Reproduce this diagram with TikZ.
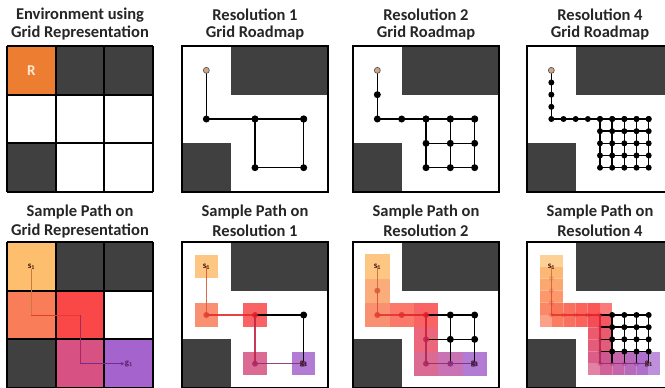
\documentclass[tikz,border=0pt]{standalone}
\usepackage{fontspec}
\setmainfont{Carlito}
\usetikzlibrary{arrows.meta}
\definecolor{dk}{RGB}{64,64,64}
\definecolor{rorange}{RGB}{237,125,49}
\definecolor{rtext}{RGB}{253,232,215}
\definecolor{stan}{RGB}{205,165,135}
\definecolor{cm0}{RGB}{253,190,110}
\definecolor{cm1}{RGB}{250,125,90}
\definecolor{cm2}{RGB}{250,72,72}
\definecolor{cm3}{RGB}{215,82,130}
\definecolor{cm4}{RGB}{165,100,205}
\definecolor{pm0}{RGB}{205,120,60}
\definecolor{pm1}{RGB}{230,60,45}
\definecolor{pm2}{RGB}{225,30,40}
\definecolor{pm3}{RGB}{165,40,100}
\definecolor{pm4}{RGB}{115,45,145}
\definecolor{lblc}{RGB}{55,25,15}

\newcommand{\mixcol}[3]{%
  \pgfmathtruncatemacro{\mcseg}{min(floor(#3),3)}%
  \pgfmathtruncatemacro{\mcnext}{\mcseg+1}%
  \pgfmathtruncatemacro{\mcpct}{round(100*(1-((#3)-\mcseg)))}%
  \colorlet{#1}{#2\mcseg!\mcpct!#2\mcnext}}

\newcommand{\myenvbg}{%
  \fill[white] (0,0) rectangle (3,3);
  \fill[dk] (1,0) rectangle (3,1);
  \fill[dk] (0,2) rectangle (1,3);}
\newcommand{\myframe}{\draw[line width=1.8pt] (0,0) rectangle (3,3);}

% top roadmap: id, column list, row list, grid list, step
\newcommand{\rmap}[5]{%
  \foreach \j in {#2} {\coordinate (#1-2-\j) at (0.5,\j/4);}
  \foreach \i in {#3} {\coordinate (#1-\i-6) at (\i/4,1.5);}
  \foreach \i in {#4} {\foreach \j in {#4} {\coordinate (#1-\i-\j) at (\i/4,\j/4);}}
  \foreach \j in {#2} {\ifnum\j<6 \pgfmathtruncatemacro\rmj{\j+#5}\draw[redge] (#1-2-\j) -- (#1-2-\rmj);\fi}
  \foreach \i in {#3} {\ifnum\i<10 \pgfmathtruncatemacro\rmi{\i+#5}\draw[redge] (#1-\i-6) -- (#1-\rmi-6);\fi}
  \foreach \i in {#4} {\foreach \j in {#4} {%
     \ifnum\i<10 \pgfmathtruncatemacro\rmi{\i+#5}\draw[redge] (#1-\i-\j) -- (#1-\rmi-\j);\fi
     \ifnum\j<10 \pgfmathtruncatemacro\rmj{\j+#5}\draw[redge] (#1-\i-\j) -- (#1-\i-\rmj);\fi}}
  \foreach \j in {#2} {\ifnum\j>2 \node[rdot] (d#1-2-\j) at (#1-2-\j) {};\fi}
  \foreach \i in {#3} {\ifnum\i>2 \node[rdot] (d#1-\i-6) at (#1-\i-6) {};\fi}
  \foreach \i in {#4} {\foreach \j in {#4} {\node[rdot] (d#1-\i-\j) at (#1-\i-\j) {};}}
  \node[sdot] (s#1) at (#1-2-2) {};
}

% bottom path: id, step, last index, remainder x list, remainder y list, square opacity
\newcommand{\sqh}{0.24}
\newcommand{\bpath}[6]{%
  \foreach \m in {0,...,#3} {%
    \pgfmathtruncatemacro\bt{\m*#2}%
    \pgfmathtruncatemacro\bx{\bt<=4 ? 2 : (\bt<=8 ? \bt-2 : (\bt<=12 ? 6 : \bt-6))}%
    \pgfmathtruncatemacro\by{\bt<=4 ? 2+\bt : (\bt<=8 ? 6 : (\bt<=12 ? \bt-2 : 10))}%
    \coordinate (#1-\bx-\by) at (\bx/4,\by/4);
    \coordinate (#1p\m) at (\bx/4,\by/4);
    \mixcol{sqc}{cm}{\bt/4}%
    \fill[sqc, fill opacity=#6] (\bx/4-\sqh,\by/4-\sqh) rectangle (\bx/4+\sqh,\by/4+\sqh);
  }
  \foreach \i in {#4} {\foreach \j in {#5} {\coordinate (#1-\i-\j) at (\i/4,\j/4);}}
  \foreach \i in {#4} {\foreach \j in {#5} {%
    \pgfmathtruncatemacro\bli{\i-#2}\pgfmathtruncatemacro\blj{\j+#2}%
    \draw[redge] (#1-\bli-\j) -- (#1-\i-\j);
    \draw[redge] (#1-\i-\j) -- (#1-\i-\blj);}}
  \foreach \i in {#4} {\foreach \j in {#5} {\node[rdot] (d#1-\i-\j) at (#1-\i-\j) {};}}
  \foreach \m in {1,...,#3} {%
    \pgfmathtruncatemacro\bprev{\m-1}%
    \mixcol{pc}{pm}{(\m-0.5)*#2/4}%
    \draw[pc, line width=1.6pt, draw opacity=0.9] (#1p\bprev) -- (#1p\m);}
  \foreach \m in {1,...,#3} {%
    \mixcol{pc}{pm}{\m*#2/4}%
    \node[pdot, fill=pc] (#1d\m) at (#1p\m) {};}
  \node[lbl] (#1s) at (#1p0) {s\textsubscript{1}};
  \node[lbl] (#1g) at (#1p#3) {g\textsubscript{1}};
}

\begin{document}
\begin{tikzpicture}[x=1pt,y=-1pt,
  ttl/.style={font=\bfseries\fontsize{16.5}{18}\selectfont, text=black!85, inner sep=0},
  rdot/.style={circle, fill=black, inner sep=0, minimum size=7pt},
  pdot/.style={circle, inner sep=0, minimum size=6pt, fill opacity=0.85},
  sdot/.style={circle, fill=stan, draw=black!70, line width=0.6pt, inner sep=0, minimum size=6pt},
  redge/.style={line width=1.6pt, draw=black},
  lbl/.style={font=\bfseries\fontsize{9}{10}\selectfont, text=lblc, inner sep=0}]
\clip (0,0) rectangle (665,388);
\fill[white] (0,0) rectangle (665,388);

% titles
\node[ttl] (t1a) at (80,15) {Environment using};
\node[ttl] (t1b) at (80,33) {Grid Representation};
\node[ttl] (t2a) at (255,15) {Resolution 1};
\node[ttl] (t2b) at (255,33) {Grid Roadmap};
\node[ttl] (t3a) at (426,15) {Resolution 2};
\node[ttl] (t3b) at (426,33) {Grid Roadmap};
\node[ttl] (t4a) at (600,15) {Resolution 4};
\node[ttl] (t4b) at (600,33) {Grid Roadmap};
\node[ttl] (t5a) at (80,212) {Sample Path on};
\node[ttl] (t5b) at (80,231) {Grid Representation};
\node[ttl] (t6a) at (255,212) {Sample Path on};
\node[ttl] (t6b) at (255,231) {Resolution 1};
\node[ttl] (t7a) at (426,212) {Sample Path on};
\node[ttl] (t7b) at (426,231) {Resolution 2};
\node[ttl] (t8a) at (600,212) {Sample Path on};
\node[ttl] (t8b) at (600,231) {Resolution 4};

% panel 1
\begin{scope}[shift={(7pt,-46pt)}, x=48.67pt, y=-48.67pt]
  \fill[white] (0,0) rectangle (3,3);
  \fill[rorange] (0,0) rectangle (1,1);
  \fill[dk] (1,0) rectangle (3,1);
  \fill[dk] (0,2) rectangle (1,3);
  \foreach \k in {0,...,3} {\draw[line width=1.8pt] (\k,0) -- (\k,3); \draw[line width=1.8pt] (0,\k) -- (3,\k);}
  \node[font=\bfseries\fontsize{15}{17}\selectfont, text=rtext] (R) at (0.5,0.5) {R};
\end{scope}

% panel 2
\begin{scope}[shift={(182pt,-46pt)}, x=48.67pt, y=-48.67pt]
  \myenvbg
  \rmap{A}{2,6}{2,6,10}{6,10}{4}
  \myframe
\end{scope}

% panel 3
\begin{scope}[shift={(353pt,-46pt)}, x=48.67pt, y=-48.67pt]
  \myenvbg
  \rmap{B}{2,4,6}{2,4,6,8,10}{6,8,10}{2}
  \myframe
\end{scope}

% panel 4
\begin{scope}[shift={(527pt,-46pt)}, x=48.67pt, y=-48.67pt,
  rdot/.style={circle, fill=black, inner sep=0, minimum size=6pt},
  redge/.style={line width=1.4pt, draw=black}]
  \myenvbg
  \rmap{C}{2,...,6}{2,...,10}{6,...,10}{1}
  \myframe
\end{scope}

% panel 5
\begin{scope}[shift={(7pt,-242pt)}, x=48.67pt, y=-48.67pt]
  \fill[white] (0,0) rectangle (3,3);
  \fill[cm0] (0,0) rectangle (1,1);
  \fill[cm1] (0,1) rectangle (1,2);
  \fill[cm2] (1,1) rectangle (2,2);
  \fill[cm3] (1,2) rectangle (2,3);
  \fill[cm4] (2,2) rectangle (3,3);
  \fill[dk] (1,0) rectangle (3,1);
  \fill[dk] (0,2) rectangle (1,3);
  \foreach \k in {0,...,3} {\draw[line width=1.8pt] (\k,0) -- (\k,3); \draw[line width=1.8pt] (0,\k) -- (3,\k);}
  \node[lbl] (s5) at (0.5,0.5) {s\textsubscript{1}};
  \node[lbl, text=pm4!70!black] (g5) at (2.5,2.5) {g\textsubscript{1}};
  \coordinate (c5a) at (0.5,1.5);
  \coordinate (c5b) at (1.5,1.5);
  \coordinate (c5c) at (1.5,2.5);
  \draw[pm0, line width=1pt] (s5) -- (c5a);
  \draw[pm1, line width=1pt] (c5a) -- (c5b);
  \draw[pm3, line width=1pt] (c5b) -- (c5c);
  \draw[pm4, line width=1pt, -{Stealth[length=4pt,width=4pt]}] (c5c) -- (g5);
\end{scope}

% panel 6
\begin{scope}[shift={(182pt,-242pt)}, x=48.67pt, y=-48.67pt]
  \myenvbg
  \bpath{D}{4}{4}{10}{6}{0.85}
  \myframe
\end{scope}

% panel 7
\begin{scope}[shift={(353pt,-242pt)}, x=48.67pt, y=-48.67pt]
  \renewcommand{\sqh}{0.25}
  \myenvbg
  \bpath{E}{2}{8}{8,10}{6,8}{0.85}
  \myframe
\end{scope}

% panel 8
\begin{scope}[shift={(527pt,-242pt)}, x=48.67pt, y=-48.67pt,
  rdot/.style={circle, fill=black, inner sep=0, minimum size=6pt},
  redge/.style={line width=1.4pt, draw=black},
  pdot/.style={circle, inner sep=0, minimum size=5pt, fill opacity=0.3}]
  \myenvbg
  \bpath{F}{1}{16}{7,8,9,10}{6,7,8,9}{0.72}
  \myframe
\end{scope}
\end{tikzpicture}
\end{document}
